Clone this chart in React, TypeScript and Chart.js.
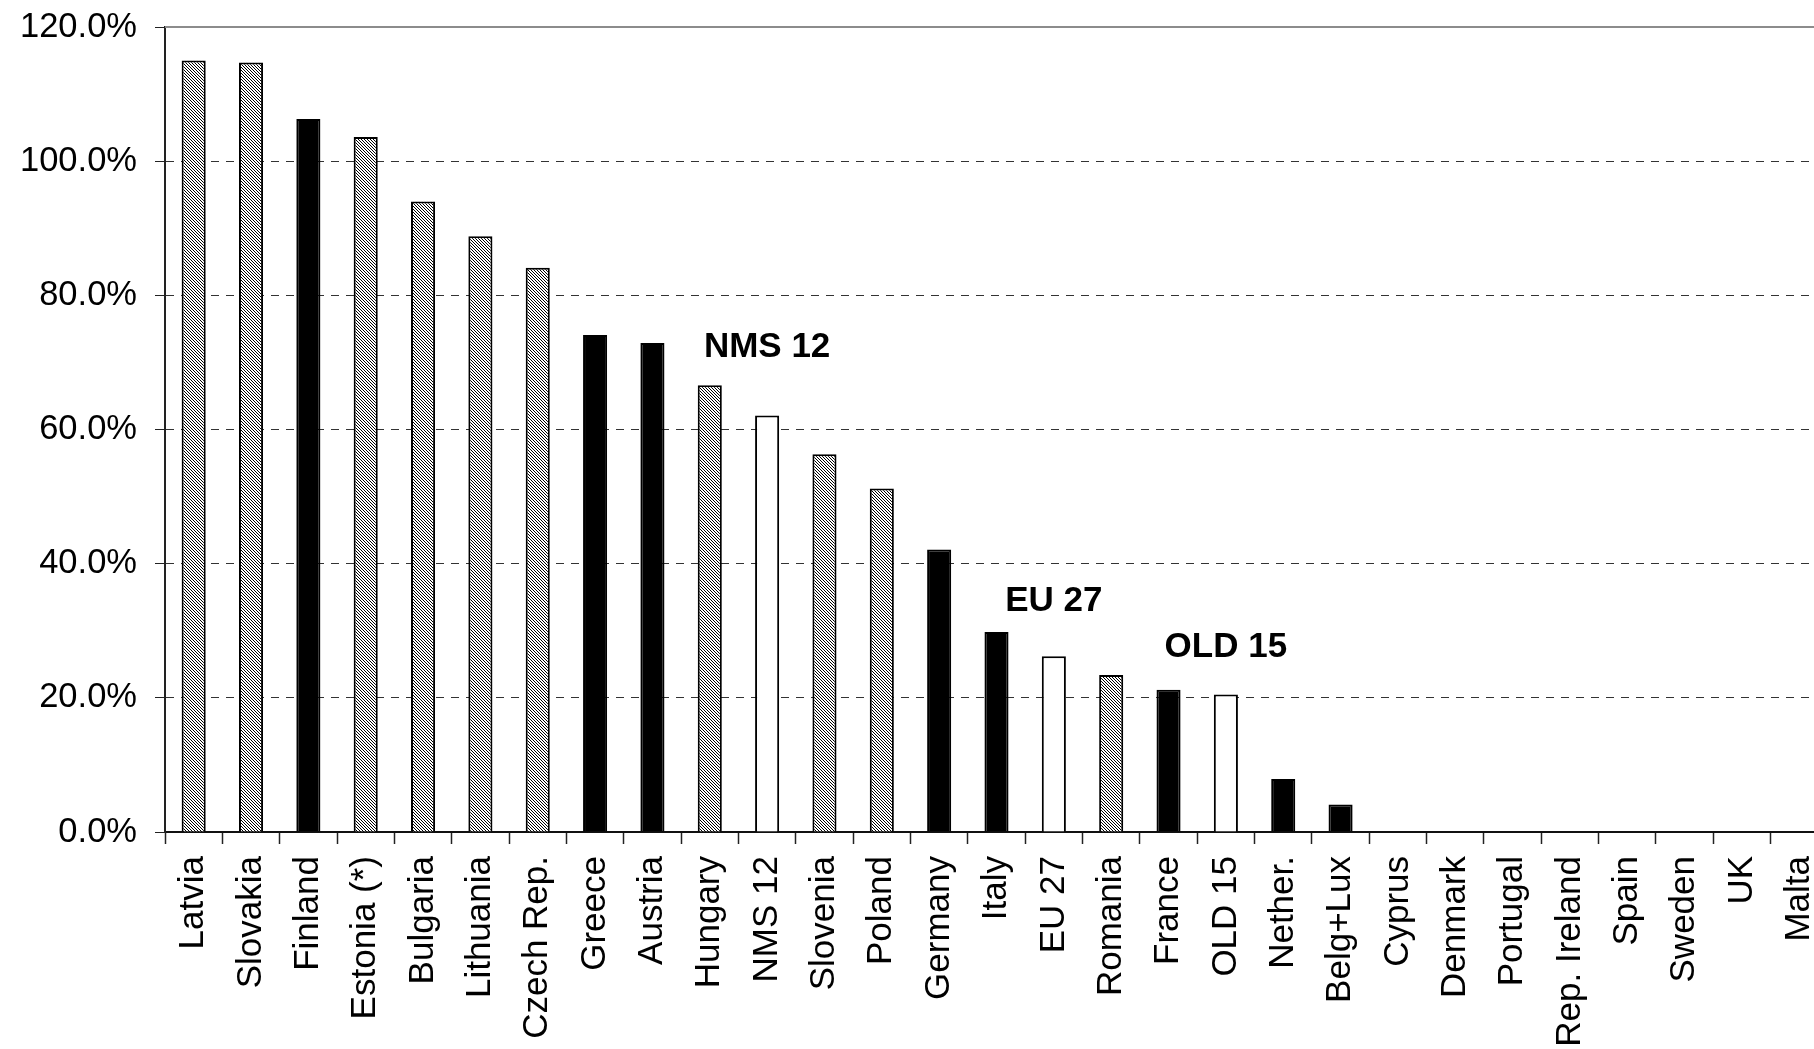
import React, { useEffect, useRef } from "react";
import { Chart, registerables } from "chart.js";

Chart.register(...registerables);

const categories = [
  "Latvia", "Slovakia", "Finland", "Estonia (*)", "Bulgaria", "Lithuania", "Czech Rep.",
  "Greece", "Austria", "Hungary", "NMS 12", "Slovenia", "Poland", "Germany", "Italy",
  "EU 27", "Romania", "France", "OLD 15", "Nether.", "Belg+Lux", "Cyprus", "Denmark",
  "Portugal", "Rep. Ireland", "Spain", "Sweden", "UK", "Malta",
];
const values = [
  115.0, 114.7, 106.3, 103.6, 94.0, 88.8, 84.1,
  74.1, 72.9, 66.6, 62.1, 56.3, 51.2, 42.1, 29.8,
  26.2, 23.4, 21.2, 20.5, 7.9, 4.1, 0, 0,
  0, 0, 0, 0, 0, 0,
];
const groups = [
  "nms", "nms", "old", "nms", "nms", "nms", "nms",
  "old", "old", "nms", "agg", "nms", "nms", "old", "old",
  "agg", "nms", "old", "agg", "old", "old", "nms", "old",
  "old", "old", "old", "old", "old", "nms",
];
const yTicks = [0, 20, 40, 60, 80, 100, 120];
const annotationLabels = ["NMS 12", "EU 27", "OLD 15"];
const annotationCategories = ["NMS 12", "EU 27", "OLD 15"];
const annotationValues = [72.2, 34.4, 27.5];

const FONT = "'Liberation Sans', Arial, Helvetica, sans-serif";

function makeHatch(): CanvasPattern | string {
  const n = 3;
  const c = document.createElement("canvas");
  c.width = n;
  c.height = n;
  const g = c.getContext("2d");
  if (!g) return "#aaaaaa";
  g.fillStyle = "#ffffff";
  g.fillRect(0, 0, n, n);
  g.fillStyle = "#000000";
  for (let i = 0; i < n; i++) g.fillRect(i, i, 1, 1);
  const p = g.createPattern(c, "repeat");
  return p || "#aaaaaa";
}

export default function App() {
  const ref = useRef<HTMLCanvasElement | null>(null);

  useEffect(() => {
    const canvas = ref.current;
    if (!canvas) return;
    const hatch = makeHatch();
    const bg = groups.map((g) => (g === "nms" ? hatch : g === "old" ? "#000000" : "#ffffff"));

    const overlay = {
      id: "overlay",
      beforeDatasetsDraw(chart: any) {
        const { ctx, chartArea, scales } = chart;
        const y = scales.y;
        const yTop = y.getPixelForValue(yTicks[yTicks.length - 1]);
        ctx.save();
        ctx.strokeStyle = "#8c8c8c";
        ctx.lineWidth = 2;
        ctx.beginPath();
        ctx.moveTo(chartArea.left, yTop);
        ctx.lineTo(chartArea.right, yTop);
        ctx.stroke();
        ctx.restore();
      },
      afterDatasetsDraw(chart: any) {
        const { ctx, scales } = chart;
        ctx.save();
        ctx.fillStyle = "#000000";
        ctx.font = `bold 35px ${FONT}`;
        ctx.textAlign = "center";
        ctx.textBaseline = "middle";
        annotationLabels.forEach((lab, i) => {
          const idx = categories.indexOf(annotationCategories[i]);
          const px = scales.x.getPixelForValue(idx);
          const py = scales.y.getPixelForValue(annotationValues[i]);
          ctx.fillText(lab, px, py);
        });
        ctx.restore();
      },
    };

    const chart = new Chart(canvas, {
      type: "bar",
      data: {
        labels: categories,
        datasets: [
          {
            data: values,
            backgroundColor: bg as any,
            borderColor: "#000000",
            borderWidth: 2,
            categoryPercentage: 1,
            barPercentage: 0.42,
          },
        ],
      },
      options: {
        responsive: false,
        animation: false,
        layout: { padding: { top: 27, left: 0, right: 0, bottom: 0 } },
        plugins: { legend: { display: false }, tooltip: { enabled: false } },
        scales: {
          x: {
            afterFit(scale: any) {
              scale.height = 1049 - 832;
              scale.paddingLeft = 0;
              scale.paddingRight = 0;
            },
            grid: {
              display: true,
              offset: true,
              drawOnChartArea: false,
              drawTicks: true,
              tickLength: 12,
              tickColor: "#222222",
              tickWidth: 1.5,
            },
            border: { display: true, color: "#111111", width: 2 },
            ticks: {
              autoSkip: false,
              maxRotation: 90,
              minRotation: 90,
              padding: 12,
              color: "#000000",
              font: { family: FONT, size: 35 },
            },
          },
          y: {
            min: 0,
            max: 120,
            afterFit(scale: any) {
              scale.width = 165;
              scale.paddingTop = 0;
              scale.paddingBottom = 0;
            },
            afterBuildTicks(scale: any) {
              scale.ticks = yTicks.map((v) => ({ value: v }));
            },
            grid: {
              display: true,
              drawTicks: true,
              tickLength: 10,
              tickColor: "#222222",
              color: (c: any) => (c.tick && c.tick.value === 0 ? "rgba(0,0,0,0)" : "#333333"),
              lineWidth: 1,
            },
            border: { display: true, color: "#222222", width: 2, dash: [8, 7] },
            ticks: {
              padding: 18,
              color: "#000000",
              font: { family: FONT, size: 34.5 },
              callback: (v: any) => Number(v).toFixed(1) + "%",
            },
          },
        },
      },
      plugins: [overlay],
    });
    return () => chart.destroy();
  }, []);

  return (
    <div
      style={{
        position: "fixed",
        left: 0,
        top: 0,
        width: 1814,
        height: 1049,
        overflow: "hidden",
        background: "#ffffff",
      }}
    >
      <canvas ref={ref} width={1828} height={1049} style={{ width: 1828, height: 1049, display: "block" }} />
    </div>
  );
}
